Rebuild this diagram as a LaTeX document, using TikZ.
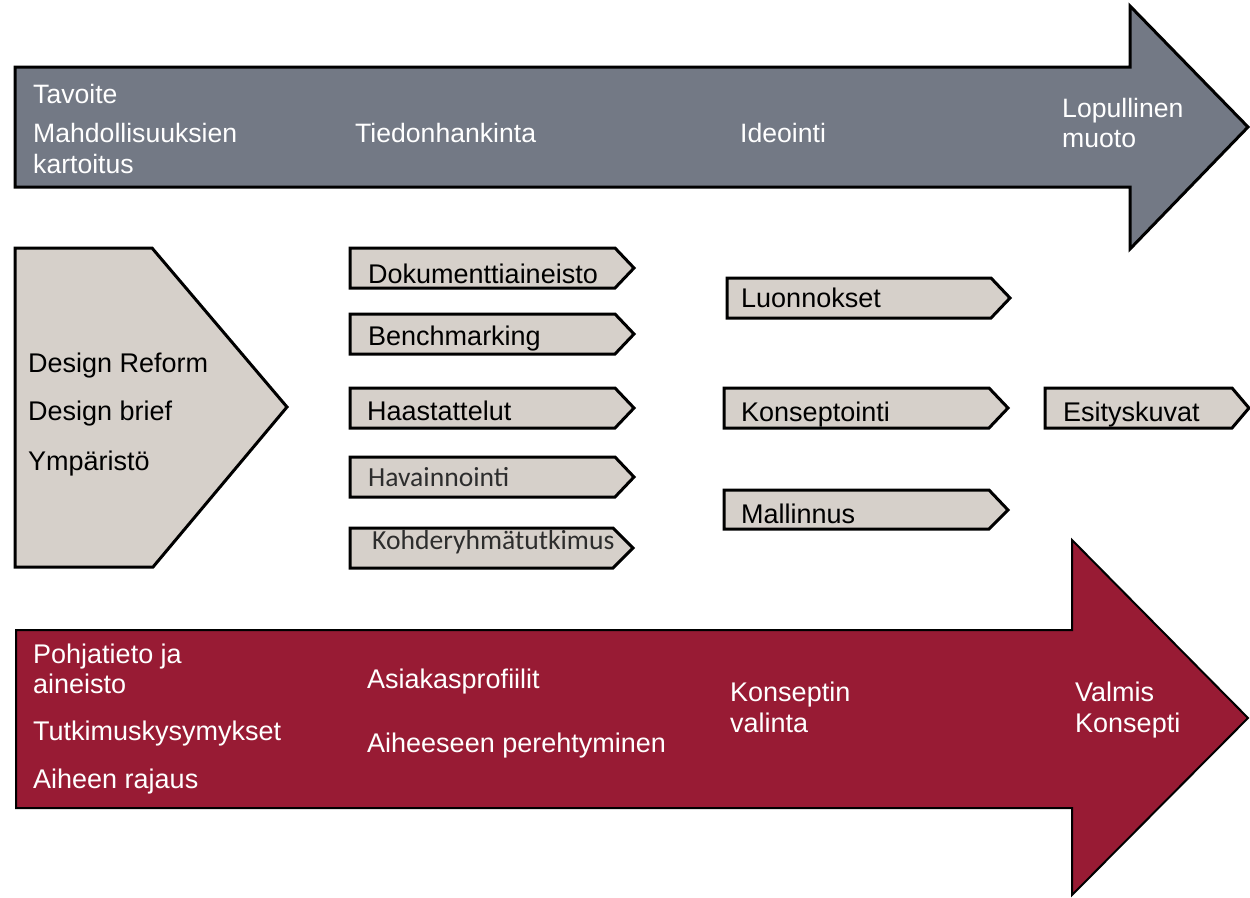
\documentclass[tikz,border=0pt]{standalone}
\usepackage{fontspec}
\setmainfont{Liberation Sans}
\newfontfamily\calib{Carlito}
\definecolor{topgray}{RGB}{115,121,133}
\definecolor{crimson}{RGB}{152,27,52}
\definecolor{boxfill}{RGB}{214,208,202}
\definecolor{calgray}{RGB}{45,45,45}
\begin{document}
\begin{tikzpicture}[x=1pt,y=-1pt,
  lbl/.style={inner sep=0pt,anchor=base west,font=\fontsize{27}{31}\selectfont},
  tlbl/.style={inner sep=0pt,anchor=base west,font=\fontsize{26.6}{31}\selectfont,text=white},
  wlbl/.style={lbl,text=white},
  blbl/.style={lbl,text=black},
  clbl/.style={inner sep=0pt,anchor=base west,font=\calib\fontsize{27.6}{31}\selectfont,text=calgray},
  tagshape/.style={draw=black,line width=3pt,fill=boxfill,line join=miter},
  bigtop/.style={draw=black,line width=3pt,fill=topgray,line join=miter},
  bigbot/.style={draw=black,line width=2pt,fill=crimson,line join=miter}]
\useasboundingbox (0,0) rectangle (1250,897);
% top arrow
\draw[bigtop] (15,67) -- (1130,67) -- (1130,6) -- (1248,127) -- (1130,249) -- (1130,187) -- (15,187) -- cycle;
\node[tlbl] (t1) at (33,103) {Tavoite};
\node[tlbl] (t2) at (33,142) {Mahdollisuuksien};
\node[tlbl] (t3) at (33,173) {kartoitus};
\node[tlbl] (t4) at (355,142) {Tiedonhankinta};
\node[tlbl] (t5) at (740,142) {Ideointi};
\node[tlbl] (t6) at (1062,117) {Lopullinen};
\node[tlbl] (t7) at (1062,147) {muoto};
% bottom arrow
\draw[bigbot] (16,630) -- (1072,630) -- (1072,540) -- (1248,718) -- (1072,895) -- (1072,808) -- (16,808) -- cycle;
\node[wlbl] (b1) at (33,663) {Pohjatieto ja};
\node[wlbl] (b2) at (33,693) {aineisto};
\node[wlbl] (b3) at (33,740) {Tutkimuskysymykset};
\node[wlbl] (b4) at (33,788) {Aiheen rajaus};
\node[wlbl] (b5) at (367,688) {Asiakasprofiilit};
\node[wlbl] (b6) at (367,752) {Aiheeseen perehtyminen};
\node[wlbl] (b7) at (730,701) {Konseptin};
\node[wlbl] (b8) at (730,732) {valinta};
\node[wlbl] (b9) at (1075,701) {Valmis};
\node[wlbl] (b10) at (1075,732) {Konsepti};
% left pentagon
\draw[tagshape] (15,248) -- (152,248) -- (287,407) -- (153,567) -- (15,567) -- cycle;
\node[blbl] (p1) at (28,372) {Design Reform};
\node[blbl] (p2) at (28,420) {Design brief};
\node[blbl] (p3) at (28,470) {Ympäristö};
% small tags, column 1
\draw[tagshape] (350,248) -- (615,248) -- (634,268) -- (615,288) -- (350,288) -- cycle;
\node[blbl] (c1) at (368,283) {Dokumenttiaineisto};
\draw[tagshape] (350,314) -- (615,314) -- (634,334) -- (615,354) -- (350,354) -- cycle;
\node[blbl] (c2) at (368,345) {Benchmarking};
\draw[tagshape] (350,388) -- (615,388) -- (634,408) -- (615,428) -- (350,428) -- cycle;
\node[blbl] (c3) at (367,420) {Haastattelut};
\draw[tagshape] (350,457) -- (615,457) -- (634,477) -- (615,497) -- (350,497) -- cycle;
\node[clbl] (c4) at (368,486) {Havainnointi};
\draw[tagshape] (350,528) -- (613,528) -- (633,548) -- (613,568) -- (350,568) -- cycle;
\node[clbl] (c5) at (372,549) {Kohderyhmätutkimus};
% column 2
\draw[tagshape] (727,278) -- (991,278) -- (1010,298) -- (991,318) -- (727,318) -- cycle;
\node[blbl] (d1) at (741,307) {Luonnokset};
\draw[tagshape] (724,388) -- (989,388) -- (1008,408) -- (989,428) -- (724,428) -- cycle;
\node[blbl] (d2) at (741,421) {Konseptointi};
\draw[tagshape] (724,490) -- (989,490) -- (1008,510) -- (989,529) -- (724,529) -- cycle;
\node[blbl] (d3) at (741,523) {Mallinnus};
\draw[tagshape] (1045,388) -- (1232,388) -- (1249,408) -- (1232,428) -- (1045,428) -- cycle;
\node[blbl] (e1) at (1063,421) {Esityskuvat};
\end{tikzpicture}
\end{document}
